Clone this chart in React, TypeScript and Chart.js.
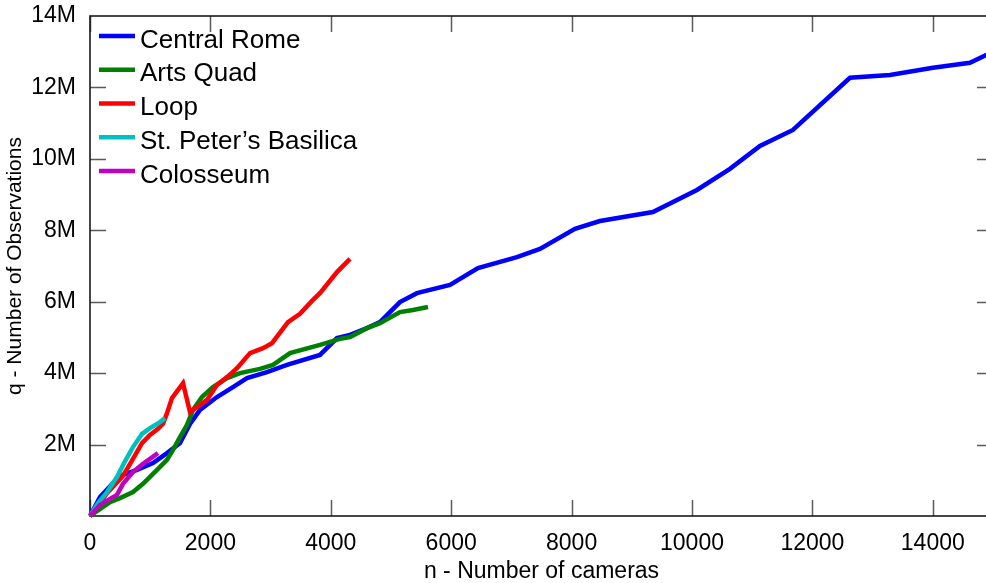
import React, { useEffect, useRef } from 'react';
import { Chart, registerables } from 'chart.js';

Chart.register(...registerables);

// ---- Data (x = number of cameras, y = observations in millions) ----
const seriesLabels = ['Central Rome', 'Arts Quad', 'Loop', "St. Peter\u2019s Basilica", 'Colosseum'];
const seriesColors = ['#0000ff', '#008000', '#ff0000', '#00bfbf', '#bf00bf'];

const centralRomeCameras = [0, 166, 382, 548, 781, 1046, 1279, 1495, 1661, 1827, 2109, 2375, 2608, 2940, 3272, 3820, 4103, 4319, 4601, 4817, 5149, 5431, 5980, 6445, 7092, 7475, 8056, 8471, 9351, 10082, 10630, 11129, 11677, 12624, 13288, 14002, 14617, 15000];
const centralRomeObs = [0, 0.53, 0.92, 1.15, 1.29, 1.48, 1.76, 2.04, 2.58, 2.97, 3.33, 3.61, 3.86, 4.03, 4.23, 4.51, 4.98, 5.07, 5.26, 5.43, 5.99, 6.24, 6.47, 6.94, 7.25, 7.48, 8.04, 8.26, 8.51, 9.13, 9.72, 10.36, 10.81, 12.27, 12.35, 12.55, 12.69, 13.0];

const artsQuadCameras = [0, 332, 498, 714, 880, 1113, 1279, 1379, 1495, 1611, 1711, 1860, 2043, 2276, 2492, 2824, 3040, 3322, 3820, 4153, 4319, 4601, 4817, 5149, 5365, 5614];
const artsQuadObs = [0, 0.39, 0.5, 0.67, 0.9, 1.29, 1.57, 1.85, 2.21, 2.55, 2.97, 3.33, 3.61, 3.86, 4.0, 4.12, 4.23, 4.56, 4.79, 4.96, 5.01, 5.26, 5.4, 5.71, 5.77, 5.85];

const loopCameras = [0, 166, 282, 548, 714, 864, 997, 1129, 1213, 1279, 1362, 1545, 1661, 1777, 1943, 2109, 2276, 2442, 2658, 2874, 3023, 3289, 3488, 3704, 3820, 4103, 4319];
const loopObs = [0, 0.36, 0.64, 1.12, 1.6, 2.04, 2.27, 2.44, 2.58, 2.88, 3.3, 3.72, 2.91, 3.05, 3.25, 3.67, 3.89, 4.14, 4.56, 4.7, 4.84, 5.43, 5.66, 6.05, 6.24, 6.83, 7.2];

const stPetersCameras = [0, 133, 282, 448, 565, 714, 864, 997, 1163, 1246];
const stPetersObs = [0, 0.36, 0.67, 1.09, 1.48, 1.93, 2.3, 2.46, 2.63, 2.74];

const colosseumCameras = [0, 166, 332, 448, 548, 714, 880, 997, 1129];
const colosseumObs = [0, 0.31, 0.48, 0.59, 0.9, 1.23, 1.46, 1.6, 1.76];

const xTickValues = [0, 2000, 4000, 6000, 8000, 10000, 12000, 14000];
const yTickLabels = ['', '2M', '4M', '6M', '8M', '10M', '12M', '14M'];

const xTitle = 'n - Number of cameras';
const yTitle = 'q - Number of Observations';

const FONT = '"Liberation Sans", Arial, Helvetica, sans-serif';

const allCameras = [centralRomeCameras, artsQuadCameras, loopCameras, stPetersCameras, colosseumCameras];
const allObs = [centralRomeObs, artsQuadObs, loopObs, stPetersObs, colosseumObs];

const frameAndLegend = {
  id: 'frameAndLegend',
  beforeDatasetsDraw(chart: any) {
    const { ctx, chartArea } = chart;
    const { left, right, top, bottom } = chartArea;
    const xs = chart.scales.x;
    const ys = chart.scales.y;
    ctx.save();
    // inward ticks
    ctx.strokeStyle = '#5a5a5a';
    ctx.lineWidth = 1.5;
    const tl = 16;
    ctx.beginPath();
    xs.ticks.forEach((t: any) => {
      const p = Math.round(xs.getPixelForValue(t.value)) + 0.5;
      ctx.moveTo(p, bottom);
      ctx.lineTo(p, bottom - tl);
      ctx.moveTo(p, top);
      ctx.lineTo(p, top + tl);
    });
    ys.ticks.forEach((t: any) => {
      if (t.value <= 0 || t.value >= 14) return;
      const p = Math.round(ys.getPixelForValue(t.value)) + 0.5;
      ctx.moveTo(left, p);
      ctx.lineTo(left + tl, p);
      ctx.moveTo(right, p);
      ctx.lineTo(right - tl, p);
    });
    ctx.stroke();
    // frame
    ctx.strokeStyle = '#1a1a1a';
    ctx.lineWidth = 1.6;
    ctx.strokeRect(left, top, right - left, bottom - top);
    ctx.restore();
  },
  afterDraw(chart: any) {
    const { ctx, chartArea } = chart;
    ctx.save();
    ctx.font = `26px ${FONT}`;
    ctx.textBaseline = 'middle';
    ctx.textAlign = 'left';
    seriesLabels.forEach((lab, i) => {
      const ly = chartArea.top + 20 + 33.75 * i;
      ctx.strokeStyle = seriesColors[i];
      ctx.lineWidth = 4.5;
      ctx.beginPath();
      ctx.moveTo(chartArea.left + 9, ly);
      ctx.lineTo(chartArea.left + 45, ly);
      ctx.stroke();
      ctx.fillStyle = '#000';
      ctx.fillText(lab, chartArea.left + 50, ly + 4.5);
    });
    ctx.restore();
  },
};

export default function App() {
  const ref = useRef<HTMLCanvasElement | null>(null);
  useEffect(() => {
    if (!ref.current) return;
    const datasets = seriesLabels.map((label, i) => ({
      label,
      data: allCameras[i].map((x, j) => ({ x, y: allObs[i][j] })),
      borderColor: seriesColors[i],
      backgroundColor: seriesColors[i],
      borderWidth: 4.5,
      pointRadius: 0,
      fill: false,
      tension: 0,
      order: 5 - i,
      clip: 3,
    }));
    const chart = new Chart(ref.current, {
      type: 'line',
      data: { datasets },
      options: {
        animation: false,
        responsive: false,
        events: [],
        layout: { padding: { top: 16, right: 7, left: 0, bottom: 0 } },
        plugins: { legend: { display: false }, tooltip: { enabled: false } },
        scales: {
          x: {
            type: 'linear',
            min: 0,
            max: 15000,
            afterBuildTicks: (s: any) => {
              s.ticks = xTickValues.map((v) => ({ value: v }));
            },
            ticks: {
              autoSkip: false,
              maxRotation: 0,
              padding: 14,
              color: '#000',
              font: { family: FONT, size: 23 },
              callback: (v: any) => String(v),
            },
            grid: { display: false, drawTicks: false },
            border: { display: false },
            title: {
              display: true,
              text: xTitle,
              color: '#000',
              font: { family: FONT, size: 23, lineHeight: 1 },
              padding: { top: 0, bottom: 0 },
            },
            afterFit: (s: any) => {
              s.height = 67;
              s.paddingLeft = 0;
              s.paddingRight = 0;
            },
          },
          y: {
            type: 'linear',
            min: 0,
            max: 14,
            afterBuildTicks: (s: any) => {
              s.ticks = yTickLabels.map((_, i) => ({ value: i * 2 }));
            },
            ticks: {
              autoSkip: false,
              padding: 14,
              color: '#000',
              font: { family: FONT, size: 23 },
              callback: (v: any) => yTickLabels[Math.round(v / 2)] ?? '',
            },
            grid: { display: false, drawTicks: false },
            border: { display: false },
            title: {
              display: true,
              text: yTitle,
              color: '#000',
              font: { family: FONT, size: 21, lineHeight: 1 },
              padding: { top: 5, bottom: 0 },
            },
            afterFit: (s: any) => {
              s.width = 90;
              s.paddingTop = 0;
              s.paddingBottom = 0;
            },
          },
        },
      },
      plugins: [frameAndLegend],
    } as any);
    return () => chart.destroy();
  }, []);
  return (
    <div style={{ position: 'fixed', left: 0, top: 0, width: 986, height: 583, overflow: 'hidden', background: '#fff' }}>
      <canvas ref={ref} width={1000} height={583} style={{ width: 1000, height: 583, display: 'block' }} />
    </div>
  );
}
